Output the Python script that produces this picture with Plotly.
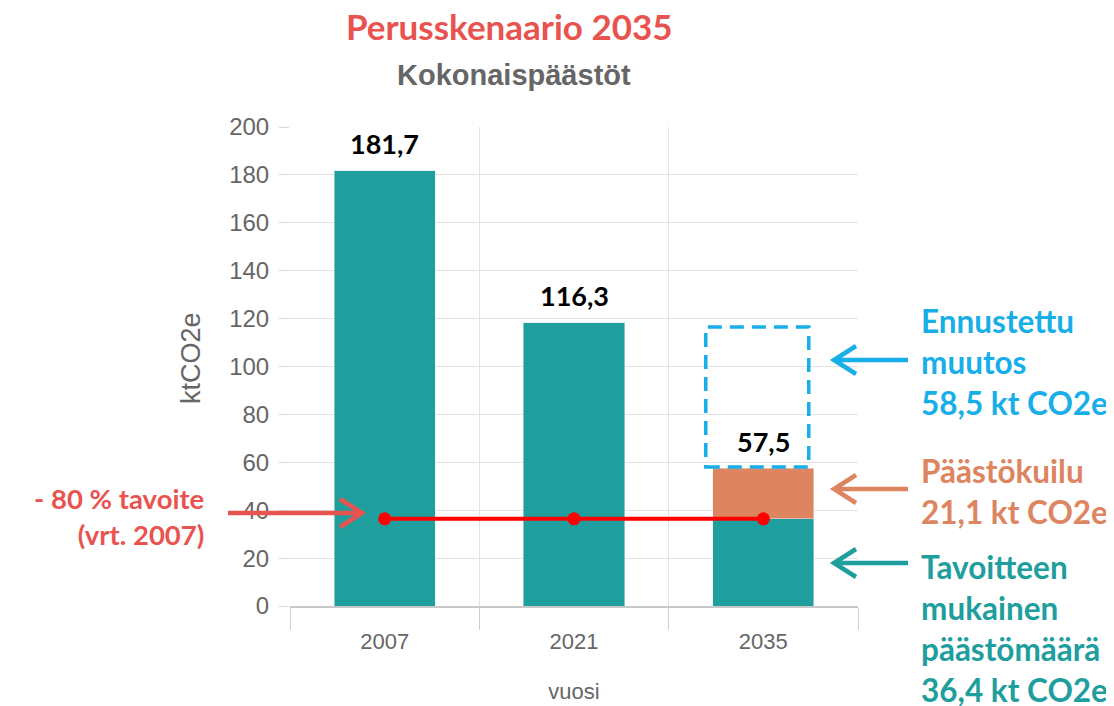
import plotly.graph_objects as go

# ---- data ----
years = ["2007", "2021", "2035"]
base_values = [181.7, 118.2, 36.4]      # teal bars (2035: target-consistent amount)
gap_values = [0, 0, 21.1]               # emission gap (orange)
label_values = [181.7, 118.2, 57.5]     # bar tops for value labels
label_texts = ["181,7", "116,3", "57,5"]
target_values = [36.4, 36.4, 36.4]      # -80 % target line
forecast_base = 58.0
forecast_change = 58.5
y_ticks = list(range(0, 201, 20))

TEAL = "#1f9e9e"
ORANGE = "#dd8461"
RED_LINE = "#ff0000"
RED_TXT = "#e9534f"
BLUE = "#18aee8"
GREY_TXT = "#666666"

OFF = 8  # page body margin
W, H = 1114 - OFF, 706 - OFF
L, R, T, B = 290 - OFF, 256, 127 - OFF, 100
PW, PH = W - L - R, H - T - B

xpos = list(range(len(years)))
boundaries = [i - 0.5 for i in range(len(years) + 1)]


def px(x):
    return (x - OFF - L) / PW


def py(y):
    return (OFF + H - B - y) / PH


fig = go.Figure()
fig.add_trace(go.Bar(x=xpos, y=base_values, marker_color=TEAL, width=0.535,
                     hoverinfo="skip"))
fig.add_trace(go.Bar(x=xpos, y=gap_values, marker_color=ORANGE, width=0.535,
                     hoverinfo="skip"))
fig.add_trace(go.Scatter(x=xpos, y=target_values, mode="lines+markers",
                         line=dict(color=RED_LINE, width=4),
                         marker=dict(color=RED_LINE, size=13),
                         hoverinfo="skip"))

# value labels
for xi, v, t in zip(xpos, label_values, label_texts):
    fig.add_annotation(x=xi, y=v, text=t, showarrow=False, yshift=27,
                       font=dict(family="Lato", size=27, color="#000000", weight="bold"))

# dashed forecast box
fig.add_shape(type="rect", xref="x", yref="y", x0=xpos[2] - 0.304, x1=xpos[2] + 0.24,
              y0=forecast_base, y1=forecast_base + forecast_change,
              line=dict(color=BLUE, width=3.5, dash="14px,8px"), fillcolor="rgba(0,0,0,0)",
              layer="above")


def arrow(tail_x, tip_x, y, color):
    d = 1 if tip_x > tail_x else -1
    back = tip_x - d * 22
    path = (f"M {px(tail_x)},{py(y)} L {px(tip_x)},{py(y)} "
            f"M {px(back)},{py(y - 14)} L {px(tip_x)},{py(y)} L {px(back)},{py(y + 14)}")
    fig.add_shape(type="path", xref="paper", yref="paper", path=path,
                  line=dict(color=color, width=4.5), layer="above")


arrow(228, 362, 513, RED_TXT)
arrow(908, 834, 360, BLUE)
arrow(908, 834, 489, ORANGE)
arrow(908, 834, 563, TEAL)

txt_font = dict(family="Lato", size=31.5, weight="bold")
fig.add_annotation(xref="paper", yref="paper", x=px(919), y=py(362), xanchor="left",
                   yanchor="middle", align="left", showarrow=False,
                   text="Ennustettu<br>muutos<br>58,5 kt CO2e",
                   font=dict(**txt_font, color=BLUE))
fig.add_annotation(xref="paper", yref="paper", x=px(919), y=py(491), xanchor="left",
                   yanchor="middle", align="left", showarrow=False,
                   text="Päästökuilu<br>21,1 kt CO2e",
                   font=dict(**txt_font, color=ORANGE))
fig.add_annotation(xref="paper", yref="paper", x=px(919), y=py(628), xanchor="left",
                   yanchor="middle", align="left", showarrow=False,
                   text="Tavoitteen<br>mukainen<br>päästömäärä<br>36,4 kt CO2e",
                   font=dict(**txt_font, color=TEAL))
fig.add_annotation(xref="paper", yref="paper", x=px(206), y=py(516), xanchor="right",
                   yanchor="middle", align="right", showarrow=False,
                   text="- 80 % tavoite<br>(vrt. 2007)",
                   font=dict(family="Lato", size=27.5, weight="bold", color=RED_TXT))

# titles
fig.add_annotation(xref="paper", yref="paper", x=px(509), y=py(26), showarrow=False,
                   text="Perusskenaario 2035", xanchor="center", yanchor="middle",
                   font=dict(family="Lato", size=35, color=RED_TXT, weight="bold"))
fig.add_annotation(xref="paper", yref="paper", x=px(514), y=py(75), showarrow=False,
                   text="Kokonaispäästöt", xanchor="center", yanchor="middle",
                   font=dict(family="Liberation Sans", size=29, color=GREY_TXT, weight="bold"))
# y-axis title
fig.add_annotation(xref="paper", yref="paper", x=px(191), y=py(358), showarrow=False,
                   text="ktCO2e", textangle=-90, xanchor="center", yanchor="middle",
                   font=dict(family="Liberation Sans", size=27, color=GREY_TXT))

fig.update_layout(
    width=W, height=H, barmode="stack", showlegend=False,
    margin=dict(l=L, r=R, t=T, b=B, autoexpand=False),
    paper_bgcolor="white", plot_bgcolor="white",
    font=dict(family="Liberation Sans", color=GREY_TXT),
)
fig.update_xaxes(
    range=[boundaries[0], boundaries[-1]], tickmode="array", tickvals=xpos, ticktext=years,
    ticks="", showgrid=False, automargin=False,
    minor=dict(tickmode="array", tickvals=boundaries, ticks="outside", ticklen=22,
               tickcolor="#d0d0d0", showgrid=True, gridcolor="#e3e3e3", gridwidth=1),
    showline=True, linecolor="#c8c8c8", linewidth=1.5, zeroline=False,
    tickfont=dict(size=22, color=GREY_TXT), ticklabelstandoff=15,
    title=dict(text="vuosi", font=dict(size=22, color=GREY_TXT), standoff=30),
)
fig.update_yaxes(
    range=[0, 200], tickvals=y_ticks, ticks="outside", ticklen=10,
    tickcolor="#d8d8d8", showgrid=True, gridcolor="#e3e3e3", gridwidth=1,
    zeroline=False, showline=False, automargin=False,
    tickfont=dict(size=24, color=GREY_TXT), ticklabelstandoff=5,
)

fig.write_html("out.html")
